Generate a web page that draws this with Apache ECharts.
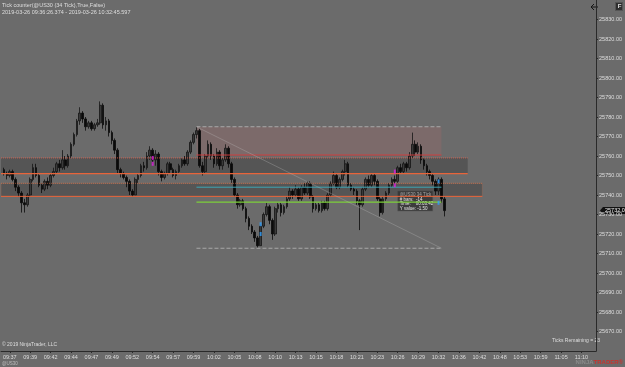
<!DOCTYPE html>
<html><head><meta charset="utf-8">
<script src="https://cdn.jsdelivr.net/npm/echarts@6/dist/echarts.min.js"></script>
<style>html,body{margin:0;padding:0;background:#6b6b6b}#c{width:625px;height:367px}</style>
</head><body><div id="c"></div>
<script>
// ---------- data ----------
const titleLine1 = 'Tick counter(@US30 (34 Tick),True,False)';
const titleLine2 = '2019-03-26 09:36:26.374 - 2019-03-26 10:32:45.597';
const timeLabels = ['09:37','09:39','09:42','09:44','09:47','09:49','09:52','09:54','09:57','09:59','10:02','10:05','10:08','10:10','10:13','10:15','10:18','10:21','10:23','10:26','10:29','10:32','10:36','10:42','10:48','10:53','10:59','11:05','11:10'];
const slotCount = 205;      // bar slots on the time axis (incl. empty future slots)
const firstLabelSlot = 3;   // slot of the first time label
const labelEvery = 7;       // bars between time labels
const firstBarSlot = 1;
const opens  = [25753,25751,25750,25752,25748,25744,25741,25736,25735,25740,25748,25754,25750,25745,25743,25747,25745,25750,25752,25756,25754,25758,25755,25760,25766,25771,25778,25782,25779,25775,25777,25774,25776,25777,25786,25776,25778,25772,25768,25763,25753,25751,25749,25747,25742,25740,25748,25750,25755,25754,25760,25763,25758,25761,25752,25749,25751,25756,25753,25750,25752,25755,25758,25756,25762,25767,25771,25773,25755,25752,25760,25766,25760,25756,25762,25755,25758,25764,25756,25748,25740,25735,25737,25733,25728,25724,25721,25718,25714,25724,25730,25734,25727,25720,25733,25735,25731,25734,25738,25742,25740,25743,25738,25744,25741,25746,25739,25733,25735,25732,25736,25733,25740,25746,25750,25744,25748,25752,25756,25745,25743,25742,25737,25735,25743,25748,25745,25750,25747,25738,25731,25738,25741,25745,25748,25747,25754,25752,25756,25754,25760,25766,25762,25765,25758,25755,25752,25750,25747,25742,25748,25738];
const closes = [25751,25750,25752,25748,25744,25741,25736,25735,25740,25748,25754,25750,25745,25743,25747,25745,25750,25752,25756,25754,25758,25755,25760,25766,25771,25778,25782,25779,25775,25777,25774,25776,25777,25786,25776,25778,25772,25768,25763,25753,25751,25749,25747,25742,25740,25748,25750,25755,25754,25760,25763,25758,25761,25752,25749,25751,25756,25753,25750,25752,25755,25758,25756,25762,25767,25771,25773,25755,25752,25760,25766,25760,25756,25762,25755,25758,25764,25756,25748,25740,25735,25737,25733,25728,25724,25721,25718,25714,25724,25730,25734,25727,25720,25733,25735,25731,25734,25738,25742,25740,25743,25738,25744,25741,25746,25739,25733,25735,25732,25736,25733,25740,25746,25750,25744,25748,25752,25756,25745,25743,25742,25737,25735,25743,25748,25745,25750,25747,25738,25731,25738,25741,25745,25748,25747,25754,25752,25756,25754,25760,25766,25762,25765,25758,25755,25752,25750,25747,25742,25748,25738,25732];
const lows   = [25750,25748,25749,25747,25742,25739,25731,25731,25734,25739,25747,25749,25744,25741,25742,25743,25744,25749,25751,25752,25753,25753,25754,25759,25765,25770,25776,25777,25773,25774,25773,25773,25775,25776,25774,25773,25770,25766,25761,25751,25749,25748,25744,25740,25739,25740,25746,25749,25752,25753,25758,25756,25755,25750,25747,25748,25750,25751,25749,25748,25751,25754,25755,25755,25761,25766,25769,25754,25750,25751,25759,25758,25754,25755,25753,25753,25757,25754,25746,25739,25733,25734,25732,25726,25722,25720,25716,25713,25714,25723,25729,25725,25717,25719,25731,25729,25730,25733,25737,25738,25739,25737,25737,25740,25740,25738,25731,25732,25731,25731,25732,25732,25739,25745,25743,25743,25747,25750,25744,25742,25740,25735,25722,25734,25742,25744,25744,25745,25737,25729,25730,25737,25740,25744,25745,25746,25751,25751,25752,25753,25759,25760,25761,25756,25753,25750,25748,25745,25740,25740,25736,25729];
const highs  = [25754,25752,25753,25753,25749,25745,25742,25738,25741,25749,25756,25756,25751,25746,25748,25749,25751,25754,25757,25758,25763,25760,25761,25767,25772,25779,25785,25783,25780,25778,25778,25777,25779,25788,25787,25780,25779,25773,25769,25764,25754,25752,25750,25748,25743,25749,25751,25756,25757,25762,25765,25764,25763,25762,25753,25752,25757,25757,25754,25753,25756,25759,25760,25763,25768,25772,25775,25774,25757,25761,25768,25767,25761,25764,25763,25759,25766,25765,25757,25749,25741,25738,25738,25734,25729,25725,25722,25719,25725,25731,25736,25735,25728,25734,25736,25736,25735,25739,25744,25743,25745,25744,25745,25746,25747,25747,25740,25736,25736,25737,25737,25741,25747,25752,25751,25749,25753,25758,25757,25746,25744,25743,25738,25744,25749,25750,25751,25751,25748,25739,25739,25742,25746,25749,25750,25755,25756,25757,25757,25762,25772,25768,25767,25766,25759,25756,25753,25751,25748,25749,25749,25739];
// markers: [slot, price]
const magentaMarks = [[52,25759],[52,25756],[135,25752],[135,25745]];
const blueMarks = [[89,25725],[89,25720],[150,25747],[150,25736]];
// zones & levels (prices)
const zoneUpper = {from: 0, to: 160, top: 25759, bottom: 25751};
const zoneLower = {from: 0, to: 165, top: 25746, bottom: 25739.3};
const pinkBox   = {from: 67, to: 151, top: 25775, bottom: 25760.5};
const toolBottom = 25712.7;
const tealLevel = 25744;
const greenLevel = 25736.3;
const tooltipAnchor = [136, 25742];
const tooltipLines = ['@US30 34 Tick', '# bars:  -14', 'Time:    00:03:42', 'Y value: -1.50'];
const ticksRemaining = 'Ticks Remaining = 23';

// ---------- build ----------
const cats = Array.from({length: slotCount}, (_, i) => String(i));
const labelAt = {};
timeLabels.forEach((t, k) => { labelAt[firstLabelSlot + k * labelEvery] = t; });
const candleData = cats.map(() => '-');
opens.forEach((o, k) => { candleData[firstBarSlot + k] = [o, closes[k], lows[k], highs[k]]; });
const lastSlot = firstBarSlot + closes.length - 1;
const lastPrice = closes[closes.length - 1];

const FONT = 'Liberation Sans';
const txt = '#dedede';
const isLab = (i) => labelAt[i] !== undefined;

const seg = (x0, y0, x1, y1, color, type, w) => ({
  type: 'line', data: [[x0, y0], [x1, y1]], symbol: 'none', silent: true, z: 5,
  lineStyle: {color: color, type: type, width: w || 1}, animation: false
});

const series = [
  {
    type: 'line', data: [], z: 1, silent: true,
    markArea: {
      silent: true,
      data: [
        [{xAxis: zoneUpper.from, yAxis: zoneUpper.top, itemStyle: {color: 'rgba(50,50,50,0.38)'}}, {xAxis: zoneUpper.to, yAxis: zoneUpper.bottom}],
        [{xAxis: zoneLower.from, yAxis: zoneLower.top, itemStyle: {color: 'rgba(50,50,50,0.38)', borderColor: 'rgba(220,120,80,0.45)', borderWidth: 0.5}}, {xAxis: zoneLower.to, yAxis: zoneLower.bottom}],
        [{xAxis: pinkBox.from, yAxis: pinkBox.top, itemStyle: {color: 'rgba(165,105,105,0.3)'}}, {xAxis: pinkBox.to, yAxis: pinkBox.bottom}]
      ]
    }
  },
  {
    type: 'candlestick', data: candleData, barWidth: 2.2, z: 4,
    itemStyle: {color: '#3a3a3a', color0: '#0a0a0a', borderColor: '#151515', borderColor0: '#0a0a0a', borderWidth: 0.8}
  },
  seg(zoneUpper.from, zoneUpper.top, zoneUpper.to, zoneUpper.top, 'rgba(225,95,75,0.85)', 'dotted'),
  seg(zoneUpper.from, zoneUpper.bottom, zoneUpper.to, zoneUpper.bottom, '#e8643a', 'solid', 1.2),
  seg(zoneLower.from, zoneLower.top, zoneLower.to, zoneLower.top, 'rgba(225,120,80,0.6)', 'dotted'),
  seg(zoneLower.from, zoneLower.bottom, zoneLower.to, zoneLower.bottom, '#e8643a', 'solid'),
  seg(pinkBox.from, pinkBox.top, pinkBox.to, pinkBox.top, '#a8a8a8', 'dashed'),
  seg(pinkBox.from, pinkBox.bottom, pinkBox.to, pinkBox.bottom, '#d03c3c', 'solid'),
  seg(pinkBox.from, tealLevel, pinkBox.to, tealLevel, '#3fa6b4', 'solid'),
  seg(pinkBox.from, greenLevel, pinkBox.to, greenLevel, '#7ccf3a', 'solid', 1.2),
  seg(pinkBox.from, toolBottom, pinkBox.to, toolBottom, '#a8a8a8', 'dashed'),
  seg(pinkBox.from, pinkBox.top, pinkBox.to, toolBottom, 'rgba(200,200,200,0.35)', 'solid', 0.8),
  {type: 'scatter', data: magentaMarks, symbol: 'rect', symbolSize: [2, 4], itemStyle: {color: '#e020e0'}, z: 6},
  {type: 'scatter', data: blueMarks, symbol: 'rect', symbolSize: [2, 4], itemStyle: {color: '#2fa0ff'}, z: 6}
];

const chart = echarts.init(document.getElementById('c'), null, {renderer: 'canvas'});
chart.setOption({
  animation: false,
  backgroundColor: '#6b6b6b',
  grid: {left: 0, right: 22, top: 0, bottom: 16, show: false},
  xAxis: {
    type: 'category', data: cats, boundaryGap: false,
    axisLine: {lineStyle: {color: '#2a2a2a', width: 1}},
    axisTick: {interval: isLab, length: 2, lineStyle: {color: '#2a2a2a'}},
    axisLabel: {interval: isLab, formatter: (v, i) => labelAt[i] || '', color: txt, fontSize: 5.5, fontFamily: FONT, margin: 3},
    splitLine: {show: false}
  },
  yAxis: {
    type: 'value', position: 'right', min: 25660, max: 25840, interval: 10, scale: true,
    axisLine: {show: true, lineStyle: {color: '#2a2a2a'}},
    axisTick: {show: true, length: 2, lineStyle: {color: '#2a2a2a'}},
    axisLabel: {color: txt, fontSize: 5.5, fontFamily: FONT, margin: 3, showMinLabel: false, showMaxLabel: false,
      formatter: (v) => v.toFixed(2)},
    splitLine: {show: false}
  },
  series: series
});

// annotations positioned from data coordinates
const pricePx = chart.convertToPixel({gridIndex: 0}, [lastSlot, lastPrice]);
const tipPx = chart.convertToPixel({gridIndex: 0}, tooltipAnchor);
const W = chart.getWidth(), H = chart.getHeight();
const axisX = W - 22;
chart.setOption({
  graphic: [
    {type: 'text', left: 2, top: 2, style: {text: titleLine1, fill: txt, font: '5.5px ' + FONT}},
    {type: 'text', left: 2, top: 9, style: {text: titleLine2, fill: txt, font: '5.5px ' + FONT}},
    {type: 'text', left: 2, top: H - 25, style: {text: '© 2019 NinjaTrader, LLC', fill: txt, font: '5px ' + FONT}},
    {type: 'text', left: 2, top: H - 6, style: {text: '@US30', fill: '#bdbdbd', font: '4.5px ' + FONT}},
    {type: 'text', right: 25, top: H - 29, style: {text: ticksRemaining, fill: txt, font: '5px ' + FONT}},
    {type: 'text', right: 2, top: H - 8, style: {rich: {a: {fill: '#8a8a8a', font: 'bold 6px ' + FONT}, b: {fill: '#c8322e', font: 'bold 6px ' + FONT}}, text: '{a|NINJA}{b|TRADER®}'}},
    {type: 'rect', right: 2, top: 2, shape: {width: 7, height: 8}, style: {fill: '#2e2e2e', stroke: '#555'}},
    {type: 'text', right: 3.5, top: 3, style: {text: 'F', fill: '#e0e0e0', font: 'bold 6px ' + FONT}},
    {type: 'group', x: axisX - 12, y: 7, children: [
      {type: 'polyline', shape: {points: [[0, 0], [7, 0]]}, style: {stroke: '#151515', lineWidth: 1}},
      {type: 'polyline', shape: {points: [[3, -3], [0, 0], [3, 3]]}, style: {stroke: '#151515', lineWidth: 1, fill: null}}
    ]},
    {type: 'group', x: axisX, y: pricePx[1], children: [
      {type: 'polygon', shape: {points: [[-3, 0], [0, -3.5], [22, -3.5], [22, 3.5], [0, 3.5]]}, style: {fill: '#111'}},
      {type: 'text', x: 2, y: -3, style: {text: lastPrice.toFixed(2), fill: '#f0f0f0', font: '5.5px ' + FONT}}
    ], z: 20},
    {type: 'group', x: tipPx[0], y: tipPx[1], z: 20, children: [
      {type: 'rect', shape: {x: 0, y: 0, width: 35, height: 20}, style: {fill: '#3c3c3c', stroke: '#5a5a5a', lineWidth: 0.5}},
      {type: 'text', x: 2, y: 1.5, style: {text: tooltipLines.join('\n'), fill: '#e6e6e6', font: '4.5px ' + FONT, lineHeight: 4.6}}
    ]}
  ]
});
</script></body></html>
